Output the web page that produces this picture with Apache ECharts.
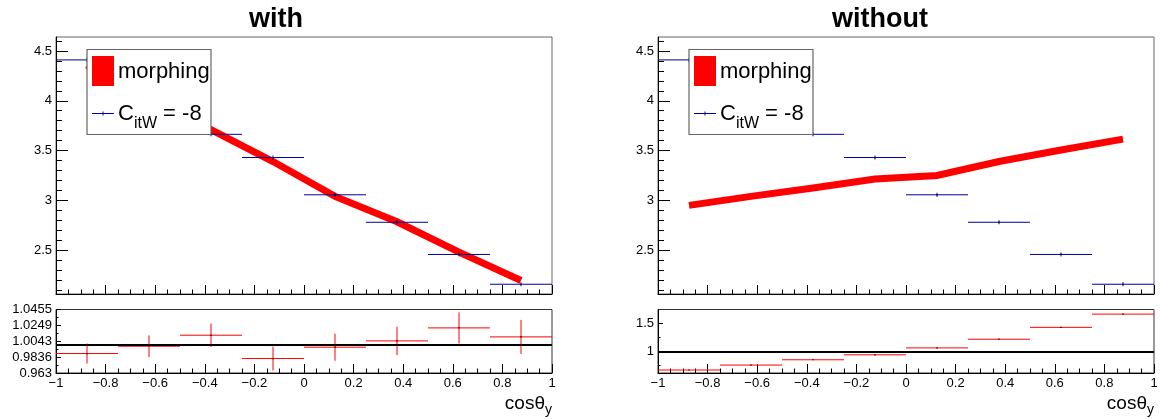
<!DOCTYPE html>
<html>
<head>
<meta charset="utf-8">
<script src="https://cdn.jsdelivr.net/npm/echarts@6/dist/echarts.min.js"></script>
<style>
  html, body { margin: 0; padding: 0; background: #fff; }
  #chart { width: 1161px; height: 420px; }
</style>
</head>
<body>
<div id="chart"></div>
<script>
// Bin edges along cos(theta_y)
const binEdges = [-1, -0.75, -0.5, -0.25, 0, 0.25, 0.5, 0.75, 1];

// Reference sample (C_itW = -8), same in both panels
const sampleValues = [4.41, 4.00, 3.663, 3.43, 3.056, 2.78, 2.457, 2.158];
const sampleErrors = [0.02, 0.02, 0.02, 0.02, 0.02, 0.02, 0.02, 0.02];

// Morphing prediction, evaluated at bin centres
const morphWith    = [4.36, 3.99, 3.71, 3.39, 3.04, 2.785, 2.48, 2.195];
const morphWithout = [2.95, 3.04, 3.125, 3.215, 3.25, 3.39, 3.505, 3.615];

// Ratio morphing / sample
const ratioWith       = [0.9883, 0.9978, 1.0121, 0.9818, 0.9965, 1.0047, 1.0216, 1.0099];
const ratioWithErr    = [0.013, 0.0141, 0.0152, 0.0156, 0.0176, 0.0184, 0.0202, 0.0221];
const ratioWithout    = [0.672, 0.760, 0.854, 0.942, 1.065, 1.219, 1.430, 1.665];
const ratioWithoutErr = [0.006, 0.006, 0.006, 0.006, 0.006, 0.006, 0.006, 0.006];

// Axis tick labels
const mainTicks         = ['2.5', '3', '3.5', '4', '4.5'];
const ratioWithTicks    = ['0.963', '0.9836', '1.0043', '1.0249', '1.0455'];
const ratioWithoutTicks = ['1', '1.5'];

const titles = ['with', 'without'];
const legendLabels = ['morphing', 'C', 'itW', ' = -8'];
const xTitle = ['cos\u03b8', 'y'];

const FONT = '"Liberation Sans", Arial, Helvetica, sans-serif';
const RED = '#ff0000';
const BLUE = '#000099';

const measureCtx = document.createElement('canvas').getContext('2d');
function textWidth(str, size) {
  measureCtx.font = size + 'px ' + FONT;
  return measureCtx.measureText(str).width;
}
// vertical-middle anchor that puts the glyph baseline at `baseline`
function midFromBaseline(baseline, size) {
  return baseline - 0.36 * size;
}

function binItems(values, errors) {
  return values.map((v, i) => [binEdges[i], binEdges[i + 1], v, errors[i]]);
}
function centreItems(values) {
  return values.map((v, i) => [(binEdges[i] + binEdges[i + 1]) / 2, v]);
}
function range(a, b, step) {
  const out = [];
  for (let v = a; v <= b + 1e-9; v += step) out.push(Math.round(v * 10000) / 10000);
  return out;
}

// Horizontal bin-width bar + vertical error bar + small centre marker
function errorBars(color) {
  return function (params, api) {
    const lo = api.value(0), hi = api.value(1), v = api.value(2), e = api.value(3);
    const xm = (lo + hi) / 2;
    const a = api.coord([lo, v]), b = api.coord([hi, v]);
    const t = api.coord([xm, v + e]), d = api.coord([xm, v - e]);
    return {
      type: 'group',
      children: [
        { type: 'line', shape: { x1: a[0], y1: a[1], x2: b[0], y2: b[1] }, style: { stroke: color, lineWidth: 1 } },
        { type: 'line', shape: { x1: t[0], y1: t[1], x2: d[0], y2: d[1] }, style: { stroke: color, lineWidth: 1 } },
        { type: 'rect', shape: { x: t[0] - 0.6, y: a[1] - 0.6, width: 1.2, height: 1.2 }, style: { fill: '#000' } }
      ]
    };
  };
}

// Text with a lowered subscript; (x, baseline) is the start (or end, for right alignment)
function subscriptText(x, baseline, parts, big, small, drop, align) {
  const w0 = textWidth(parts[0], big), w1 = textWidth(parts[1], small);
  const w2 = parts[2] ? textWidth(parts[2], big) : 0;
  const total = w0 + w1 + w2;
  const x0 = align === 'right' ? x - total : x;
  const mk = (str, px, size, base) => ({
    type: 'text', z: 101, x: px, y: midFromBaseline(base, size),
    style: { text: str, fontFamily: FONT, fontSize: size, fill: '#000', textVerticalAlign: 'middle' }
  });
  const els = [mk(parts[0], x0, big, baseline), mk(parts[1], x0 + w0, small, baseline + drop)];
  if (parts[2]) els.push(mk(parts[2], x0 + w0 + w1, big, baseline));
  return els;
}

const panels = [
  { left: 56,  titleX: 276, morph: morphWith,    ratio: ratioWith,    ratioErr: ratioWithErr,
    rMin: 0.963, rMax: 1.0455, rTicks: ratioWithTicks,
    rMinor: [0.97333, 0.99395, 1.0146, 1.0352] },
  { left: 658, titleX: 880, morph: morphWithout, ratio: ratioWithout, ratioErr: ratioWithoutErr,
    rMin: 0.619, rMax: 1.747, rTicks: ratioWithoutTicks,
    rMinor: [0.75, 1.25] }
];

const W = 496, TOP = 37, TOPH = 257, BOT = 309.5, BOTH = 63.5;
const grid = [], xAxis = [], yAxis = [], series = [], graphic = [];

const axisLineBlack = { show: true, onZero: false, lineStyle: { color: '#000', width: 1 } };
const noAxisLine = { show: false, onZero: false };
const labelStyle = { color: '#000', fontFamily: FONT, fontSize: 13 };

panels.forEach((p, k) => {
  const gTop = 2 * k, gBot = 2 * k + 1;
  grid.push({ left: p.left, top: TOP, width: W, height: TOPH, show: true, borderColor: '#666', borderWidth: 1, backgroundColor: '#fff' });
  grid.push({ left: p.left, top: BOT, width: W, height: BOTH, show: true, borderColor: '#333', borderWidth: 1, backgroundColor: '#fff' });

  const xBase = {
    type: 'value', min: -1, max: 1, interval: 0.2, position: 'bottom',
    axisLine: axisLineBlack,
    axisTick: { show: true, inside: true, length: 9, lineStyle: { color: '#000' } },
    minorTick: { show: true, splitNumber: 4, length: 4.5, lineStyle: { color: '#000' } },
    splitLine: { show: false }, minorSplitLine: { show: false }
  };
  xAxis.push(Object.assign({}, xBase, { gridIndex: gTop, axisLabel: { show: false } }));
  xAxis.push(Object.assign({}, xBase, {
    gridIndex: gBot,
    axisLabel: Object.assign({ show: true, margin: 4, formatter: v => String(v).replace('-', '\u2212') }, labelStyle)
  }));

  const yTop = 4 * k, yBot = 4 * k + 2;
  // upper pad: main ticks with labels, then a minor-tick companion axis on the same side
  yAxis.push({
    type: 'value', gridIndex: gTop, min: 2.06, max: 4.64, position: 'left',
    axisLine: axisLineBlack,
    axisTick: { show: true, inside: true, length: 12, customValues: mainTicks.map(Number), lineStyle: { color: '#000' } },
    axisLabel: Object.assign({ show: true, margin: 4, customValues: mainTicks.map(Number), formatter: v => String(v) }, labelStyle),
    splitLine: { show: false }
  });
  yAxis.push({
    type: 'value', gridIndex: gTop, min: 2.06, max: 4.64, position: 'left', offset: 0,
    axisLine: noAxisLine,
    axisTick: { show: true, inside: true, length: 6, customValues: range(2.1, 4.6, 0.1), lineStyle: { color: '#000' } },
    axisLabel: { show: false }, splitLine: { show: false }
  });
  // ratio pad
  yAxis.push({
    type: 'value', gridIndex: gBot, min: p.rMin, max: p.rMax, position: 'left',
    axisLine: axisLineBlack,
    axisTick: { show: true, inside: true, length: 5, customValues: p.rTicks.map(Number), lineStyle: { color: '#000' } },
    axisLabel: Object.assign({ show: true, margin: 4, customValues: p.rTicks.map(Number), formatter: v => String(v) }, labelStyle),
    splitLine: { show: false }
  });
  yAxis.push({
    type: 'value', gridIndex: gBot, min: p.rMin, max: p.rMax, position: 'left', offset: 0,
    axisLine: noAxisLine,
    axisTick: { show: true, inside: true, length: 2.5, customValues: p.rMinor, lineStyle: { color: '#000' } },
    axisLabel: { show: false }, splitLine: { show: false }
  });

  series.push({
    type: 'line', name: 'morphing', xAxisIndex: gTop, yAxisIndex: yTop,
    data: centreItems(p.morph), showSymbol: false, symbol: 'none', silent: true,
    lineStyle: { color: RED, width: 7, cap: 'butt', join: 'miter' }, z: 3, animation: false
  });
  series.push({
    type: 'custom', name: 'sample', xAxisIndex: gTop, yAxisIndex: yTop,
    data: binItems(sampleValues, sampleErrors), renderItem: errorBars(BLUE),
    encode: { x: [0, 1], y: 2 }, z: 4, animation: false, silent: true
  });
  series.push({
    type: 'custom', name: 'ratio', xAxisIndex: gBot, yAxisIndex: yBot,
    data: binItems(p.ratio, p.ratioErr), renderItem: errorBars(RED),
    encode: { x: [0, 1], y: 2 }, z: 4, animation: false, silent: true,
    markLine: {
      silent: true, symbol: 'none', label: { show: false }, animation: false,
      lineStyle: { color: '#000', width: 1.8, type: 'solid' },
      data: [{ yAxis: 1 }]
    }
  });

  // pad title
  graphic.push({
    type: 'text', x: p.titleX, y: midFromBaseline(29, 27), z: 100,
    style: { text: titles[k], fontFamily: FONT, fontSize: 27, fontWeight: 'bold', fill: '#000',
             textAlign: 'center', textVerticalAlign: 'middle' }
  });

  // legend box
  const lx = p.left + 31;
  graphic.push({ type: 'rect', z: 100, shape: { x: lx, y: 49.5, width: 124, height: 85 },
                 style: { fill: '#fff', stroke: '#666', lineWidth: 1.2 } });
  graphic.push({ type: 'rect', z: 101, shape: { x: lx + 5, y: 56, width: 22, height: 30 }, style: { fill: RED } });
  graphic.push({ type: 'text', z: 101, x: lx + 31, y: midFromBaseline(80, 22),
                 style: { text: legendLabels[0], fontFamily: FONT, fontSize: 22, fill: '#000', textVerticalAlign: 'middle' } });
  graphic.push({ type: 'line', z: 101, shape: { x1: lx + 5, y1: 113.5, x2: lx + 27, y2: 113.5 }, style: { stroke: BLUE, lineWidth: 1 } });
  graphic.push({ type: 'line', z: 101, shape: { x1: lx + 16, y1: 111.5, x2: lx + 16, y2: 115.5 }, style: { stroke: BLUE, lineWidth: 1 } });
  subscriptText(lx + 31, 121.7, legendLabels.slice(1), 22, 16, 7.5, 'left').forEach(el => graphic.push(el));

  // x-axis title under the ratio pad
  subscriptText(p.left + W, 411, xTitle, 19, 14, 4, 'right').forEach(el => graphic.push(el));
});

const chart = echarts.init(document.getElementById('chart'), null, { renderer: 'canvas' });
chart.setOption({
  animation: false,
  backgroundColor: '#fff',
  grid, xAxis, yAxis, series, graphic
});
</script>
</body>
</html>
